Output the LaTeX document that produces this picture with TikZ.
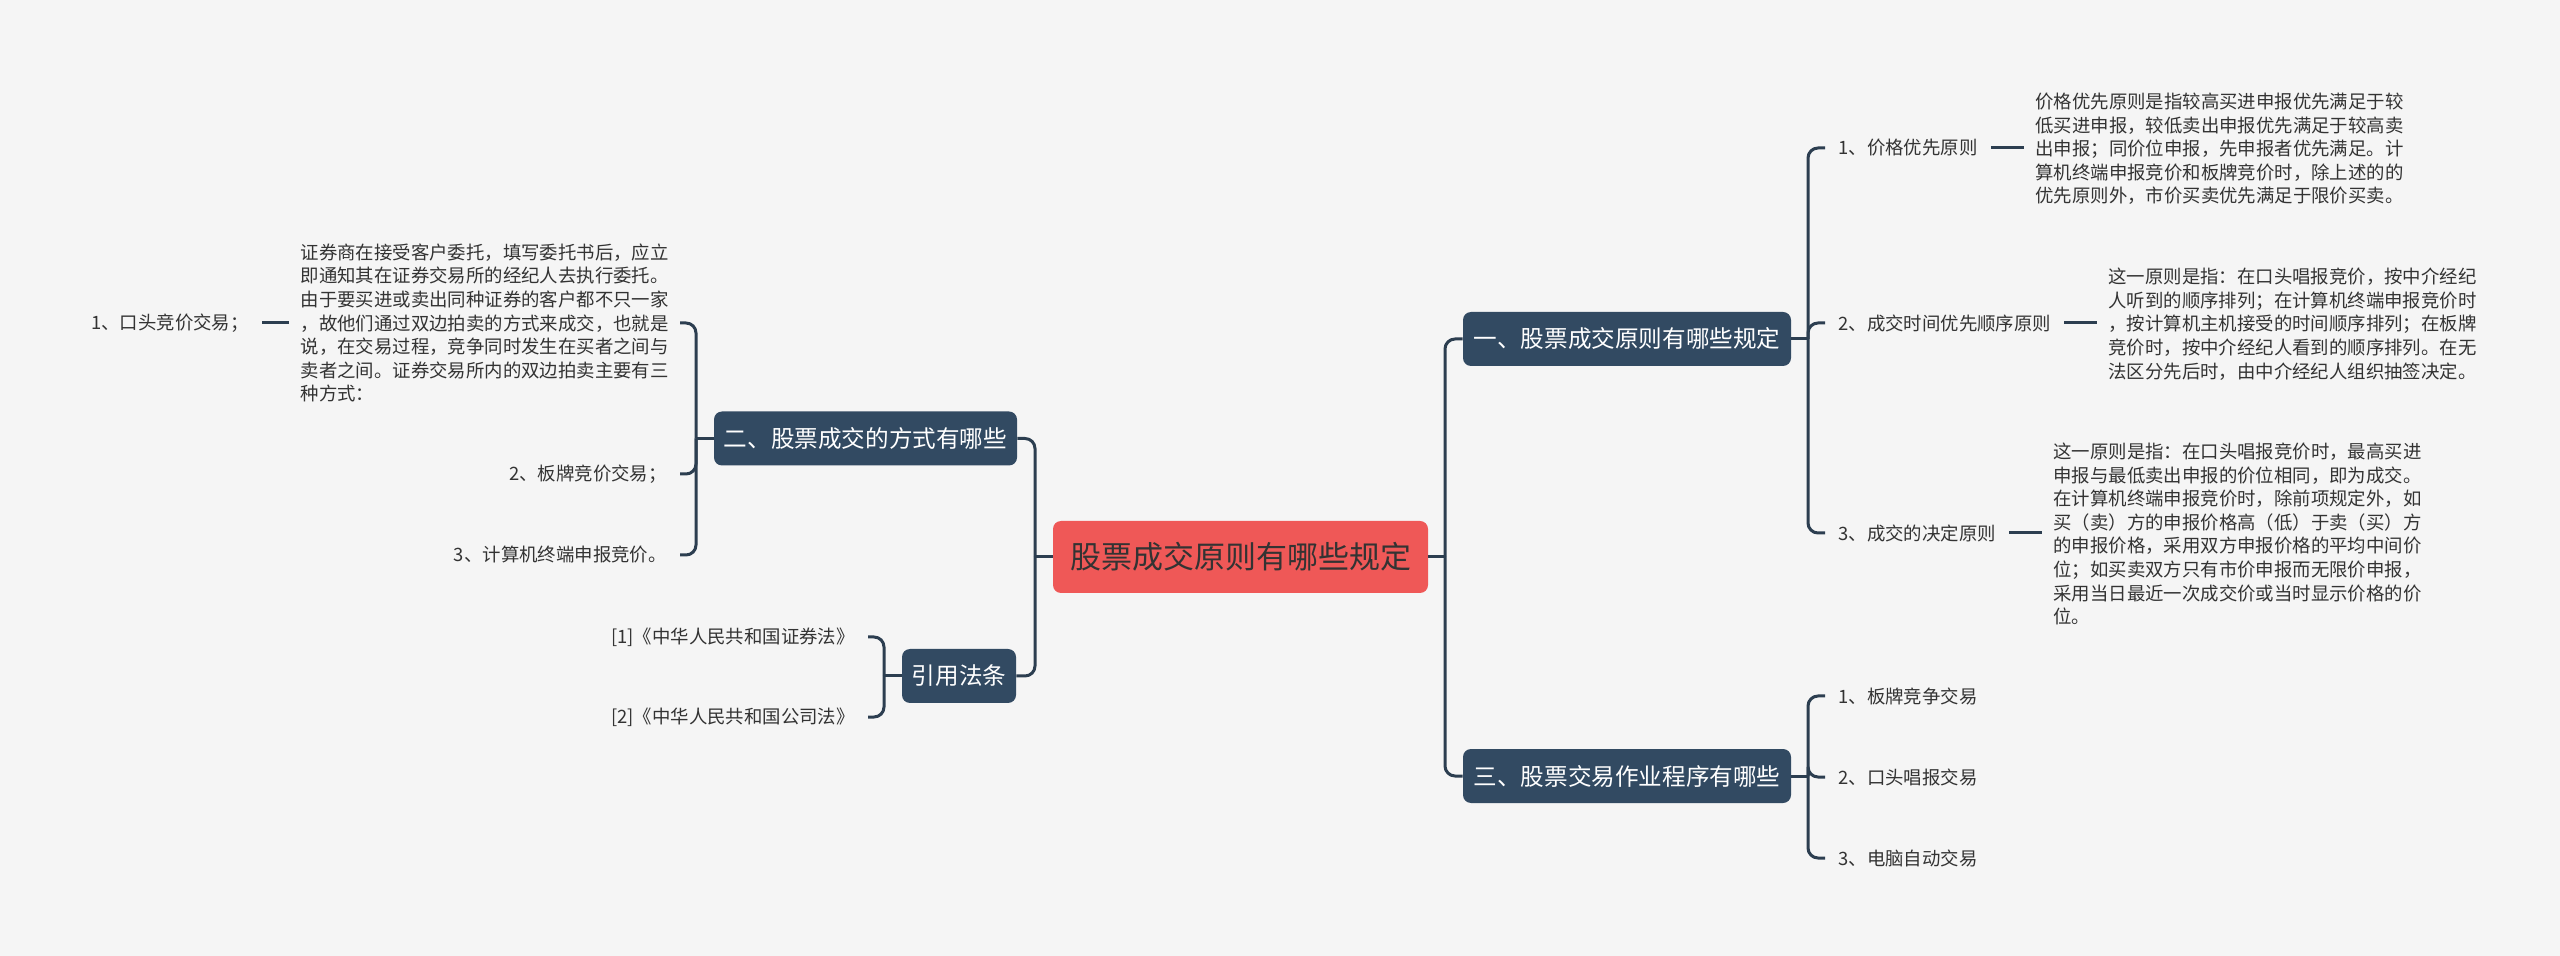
\documentclass[tikz,border=0pt]{standalone}
\usepackage{fontspec}
\setmainfont{Noto Sans CJK SC}
\definecolor{bg}{HTML}{F5F5F5}
\definecolor{boxc}{HTML}{324A62}
\definecolor{linec}{HTML}{2C3E50}
\definecolor{rootc}{HTML}{EF5857}
\definecolor{txt}{HTML}{333333}
\begin{document}
\begin{tikzpicture}[x=0.5pt,y=-0.5pt,
  root/.style={rectangle, rounded corners=4pt, fill=rootc, text=txt, font=\fontsize{15.5pt}{18pt}\selectfont, minimum width=187.5pt, minimum height=36pt, inner sep=0pt},
  branch/.style={rectangle, rounded corners=4pt, fill=boxc, text=white, font=\fontsize{11.8pt}{14pt}\selectfont, minimum height=27pt, inner sep=0pt},
  leaf/.style={text=txt, font=\fontsize{9.2pt}{11.8pt}\selectfont, inner ysep=2pt, inner xsep=6.5pt},
  para/.style={leaf, align=left, inner xsep=5.5pt},
  conn/.style={draw=linec, line width=1.5pt, rounded corners=5pt}]
\fill[bg] (0,0) rectangle (2560,956);
\useasboundingbox (0,0) rectangle (2560,956);

% root and branches
\node[root] (root) at (1240.5,557) {股票成交原则有哪些规定};
\node[branch, minimum width=164pt] (b1) at (1627,339) {一、股票成交原则有哪些规定};
\node[branch, minimum width=164pt] (b3) at (1627,776) {三、股票交易作业程序有哪些};
\node[branch, minimum width=151.5pt] (b2) at (865.5,438.5) {二、股票成交的方式有哪些};
\node[branch, minimum width=57pt] (b4) at (959,676) {引用法条};

% branch 1 leaves
\node[leaf, anchor=west] (l11) at (1825,148) {1、价格优先原则};
\node[para, anchor=west] (t11) at (2024,149) {价格优先原则是指较高买进申报优先满足于较\\低买进申报，较低卖出申报优先满足于较高卖\\出申报；同价位申报，先申报者优先满足。计\\算机终端申报竞价和板牌竞价时，除上述的的\\优先原则外，市价买卖优先满足于限价买卖。};
\node[leaf, anchor=west] (l12) at (1825,323) {2、成交时间优先顺序原则};
\node[para, anchor=west] (t12) at (2097,324) {这一原则是指：在口头唱报竞价，按中介经纪\\人听到的顺序排列；在计算机终端申报竞价时\\，按计算机主机接受的时间顺序排列；在板牌\\竞价时，按中介经纪人看到的顺序排列。在无\\法区分先后时，由中介经纪人组织抽签决定。};
\node[leaf, anchor=west] (l13) at (1825,533) {3、成交的决定原则};
\node[para, anchor=west] (t13) at (2042,534) {这一原则是指：在口头唱报竞价时，最高买进\\申报与最低卖出申报的价位相同，即为成交。\\在计算机终端申报竞价时，除前项规定外，如\\买（卖）方的申报价格高（低）于卖（买）方\\的申报价格，采用双方申报价格的平均中间价\\位；如买卖双方只有市价申报而无限价申报，\\采用当日最近一次成交价或当时显示价格的价\\位。};

% branch 3 leaves
\node[leaf, anchor=west] (l31) at (1825,696) {1、板牌竞争交易};
\node[leaf, anchor=west] (l32) at (1825,777) {2、口头唱报交易};
\node[leaf, anchor=west] (l33) at (1825,858) {3、电脑自动交易};

% branch 2 leaves
\node[para, anchor=east] (t21) at (680,323) {证券商在接受客户委托，填写委托书后，应立\\即通知其在证券交易所的经纪人去执行委托。\\由于要买进或卖出同种证券的客户都不只一家\\，故他们通过双边拍卖的方式来成交，也就是\\说，在交易过程，竞争同时发生在买者之间与\\卖者之间。证券交易所内的双边拍卖主要有三\\种方式：};
\node[leaf, anchor=east] (l21) at (262,323) {1、口头竞价交易；};
\node[leaf, anchor=east] (l22) at (680,474) {2、板牌竞价交易；};
\node[leaf, anchor=east] (l23) at (680,555) {3、计算机终端申报竞价。};

% branch 4 leaves
\node[leaf, anchor=east] (r1) at (868,637) {[1]《中华人民共和国证券法》};
\node[leaf, anchor=east] (r2) at (868,717) {[2]《中华人民共和国公司法》};

% vertical line positions
\coordinate (vR) at (1445,557);
\coordinate (vL) at (1035,557);
\coordinate (v1) at (1808,339);
\coordinate (v3) at (1808,776);
\coordinate (v2) at (696,438);
\coordinate (v4) at (884,676);

% root connectors
\draw[conn] (root.east) -- (root.east -| vR);
\draw[conn] (root.east -| vR) |- (b1.west);
\draw[conn] (root.east -| vR) |- (b3.west);
\draw[conn] (root.west) -- (root.west -| vL);
\draw[conn] (root.west -| vL) |- (b2.east);
\draw[conn] (root.west -| vL) |- (b4.east);

% branch 1
\draw[conn] (b1.east) -- (b1.east -| v1);
\draw[conn] (b1.east -| v1) |- (l11.west);
\draw[conn] (b1.east -| v1) |- (l12.west);
\draw[conn] (b1.east -| v1) |- (l13.west);
\draw[conn] (l11.east) -- (l11.east -| t11.west);
\draw[conn] (l12.east) -- (l12.east -| t12.west);
\draw[conn] (l13.east) -- (l13.east -| t13.west);

% branch 3
\draw[conn] (b3.east) -- (b3.east -| v3);
\draw[conn] (b3.east -| v3) |- (l31.west);
\draw[conn] (b3.east -| v3) |- (l32.west);
\draw[conn] (b3.east -| v3) |- (l33.west);

% branch 2
\draw[conn] (b2.west) -- (b2.west -| v2);
\draw[conn] (b2.west -| v2) |- (t21.east);
\draw[conn] (b2.west -| v2) |- (l22.east);
\draw[conn] (b2.west -| v2) |- (l23.east);
\draw[conn] (t21.west) -- (t21.west -| l21.east);

% branch 4
\draw[conn] (b4.west) -- (b4.west -| v4);
\draw[conn] (b4.west -| v4) |- (r1.east);
\draw[conn] (b4.west -| v4) |- (r2.east);
\end{tikzpicture}
\end{document}
